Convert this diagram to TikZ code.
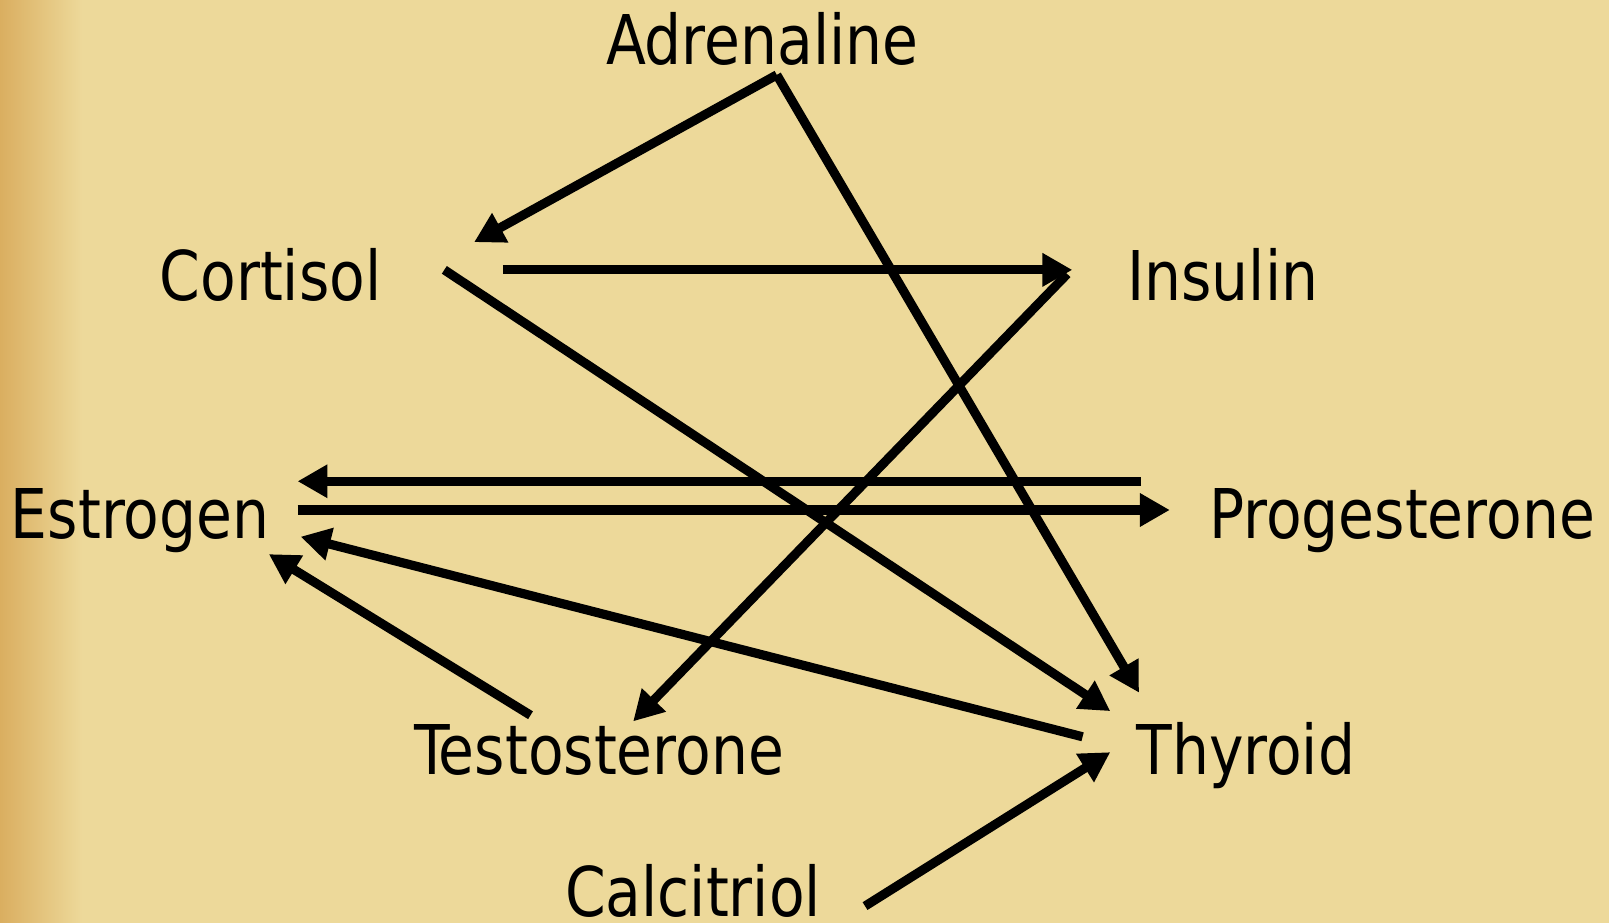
\documentclass[tikz,border=0pt]{standalone}
\usepackage{fontspec}
\setmainfont{DejaVu Sans Condensed}[FakeStretch=0.945]
\usepackage{tikz}
\usetikzlibrary{arrows.meta}
\usepackage{xcolor}
\definecolor{parch}{RGB}{237,217,154}
\definecolor{parchdark}{RGB}{218,174,96}

\begin{document}
\begin{tikzpicture}[
    x=0.01026cm, y=-0.01026cm,
    hormone/.style={inner sep=0pt, anchor=base west, font=\fontsize{19.5}{23}\selectfont},
    arrow/.style={-{Triangle[length=8.5pt, width=9pt]}, line width=2.6pt},
]

% Background
\fill[parch] (0,0) rectangle (1568,899);
\shade[left color=parchdark, right color=parch] (0,0) rectangle (80,899);
\useasboundingbox (0,0) rectangle (1568,899);

% Hormones
\node[hormone] (adrenaline) at (590,63) {Adrenaline};
\node[hormone] (cortisol) at (155,293) {Cortisol};
\node[hormone] (insulin) at (1098,293) {Insulin};
\node[hormone] (estrogen) at (10,525) {Estrogen};
\node[hormone] (progesterone) at (1178,525) {Progesterone};
\node[hormone] (testosterone) at (403,755) {Testosterone};
\node[hormone] (thyroid) at (1107,755) {Thyroid};
\node[hormone] (calcitriol) at (550,893) {Calcitriol};

% Arrow ends
\coordinate (adr_out) at (757,73);
\coordinate (cor_in) at (462,236);
\coordinate (cor_out1) at (490,263);
\coordinate (cor_out2) at (433,263);
\coordinate (ins_in) at (1045,263);
\coordinate (ins_out) at (1040,267);
\coordinate (est_in1) at (290,469);
\coordinate (est_out) at (290,497);
\coordinate (est_in2) at (293,523);
\coordinate (est_in3) at (262,540);
\coordinate (pro_out) at (1112,469);
\coordinate (pro_in) at (1140,497);
\coordinate (tes_in) at (617,703);
\coordinate (tes_out) at (517,697);
\coordinate (thy_in1) at (1110,675);
\coordinate (thy_in2) at (1082,693);
\coordinate (thy_out) at (1055,718);
\coordinate (thy_in3) at (1082,733);
\coordinate (cal_out) at (843,883);

% Arrows
\draw[arrow] (adr_out) -- (cor_in);
\draw[arrow] (adr_out) -- (thy_in1);
\draw[arrow] (cor_out1) -- (ins_in);
\draw[arrow] (cor_out2) -- (thy_in2);
\draw[arrow] (ins_out) -- (tes_in);
\draw[arrow] (pro_out) -- (est_in1);
\draw[arrow] (est_out) -- (pro_in);
\draw[arrow] (thy_out) -- (est_in2);
\draw[arrow] (tes_out) -- (est_in3);
\draw[arrow] (cal_out) -- (thy_in3);

\end{tikzpicture}
\end{document}
